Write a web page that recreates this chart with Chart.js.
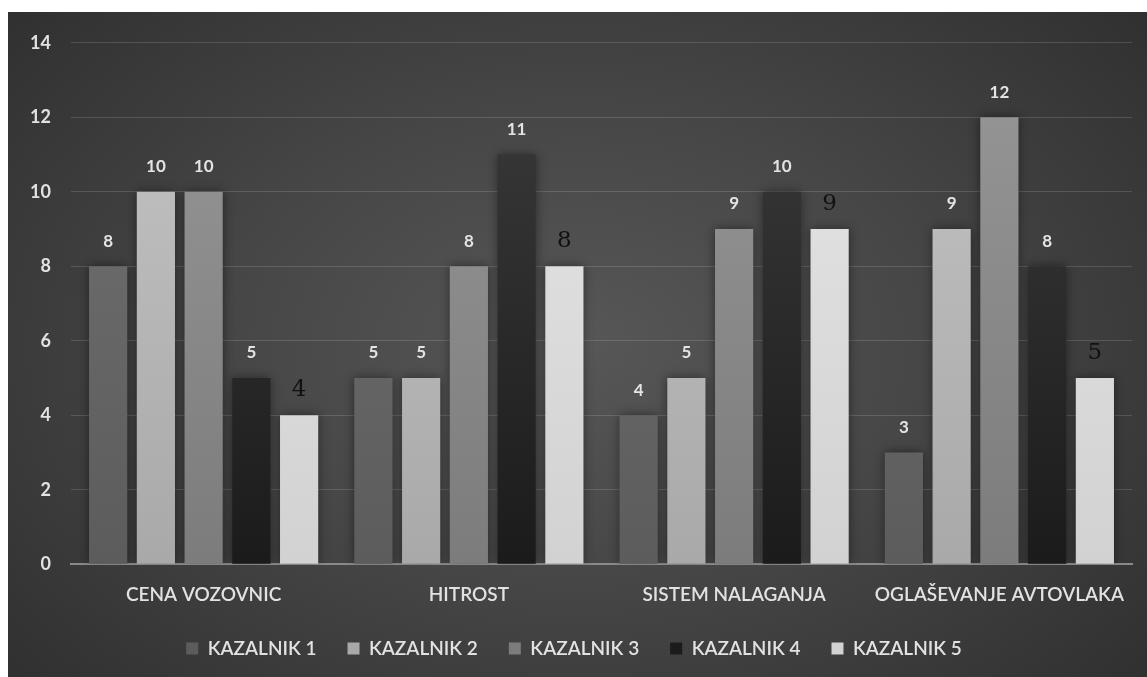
<!DOCTYPE html>
<html>
<head>
<meta charset="utf-8">
<title>Kazalniki</title>
<script src="https://cdn.jsdelivr.net/npm/chart.js@4.4.1/dist/chart.umd.min.js"></script>
<style>
    html, body { margin: 0; padding: 0; background: #fff; }
    #wrap {
        position: absolute;
        left: 8px; top: 12px;
        width: 1139px; height: 665px;
        background: radial-gradient(ellipse 70% 80% at 50% 50%, #575757 0%, #464646 45%, #2e2e2e 100%);
    }
    #chart { display: block; }
</style>
</head>
<body>
<div id="wrap"><canvas id="chart" width="1139" height="665"></canvas></div>
<script>
// ---- Data ----
const categories = ['CENA VOZOVNIC', 'HITROST', 'SISTEM NALAGANJA', 'OGLAŠEVANJE AVTOVLAKA'];
const seriesNames = ['KAZALNIK 1', 'KAZALNIK 2', 'KAZALNIK 3', 'KAZALNIK 4', 'KAZALNIK 5'];
const kazalnik1 = [8, 5, 4, 3];
const kazalnik2 = [10, 5, 5, 9];
const kazalnik3 = [10, 8, 9, 12];
const kazalnik4 = [5, 11, 10, 8];
const kazalnik5 = [4, 8, 9, 5];
const yTicks = [0, 2, 4, 6, 8, 10, 12, 14];

// ---- Bar fills (top colour, bottom colour) ----
const fills = [
    ['#727272', '#5c5c5c'],
    ['#c4c4c4', '#a9a9a9'],
    ['#979797', '#7c7c7c'],
    ['#3c3c3c', '#1b1b1b'],
    ['#e6e6e6', '#d2d2d2']
];

function barGradient(idx) {
    return (ctx) => {
        const area = ctx.chart.chartArea;
        if (!area) return fills[idx][1];
        const g = ctx.chart.ctx.createLinearGradient(0, area.top, 0, area.bottom);
        g.addColorStop(0, fills[idx][0]);
        g.addColorStop(1, fills[idx][1]);
        return g;
    };
}

const allSeries = [kazalnik1, kazalnik2, kazalnik3, kazalnik4, kazalnik5];
const datasets = allSeries.map((vals, i) => ({
    label: seriesNames[i],
    data: vals,
    backgroundColor: barGradient(i),
    borderWidth: 0,
    categoryPercentage: 0.9,
    barPercentage: 0.8
}));

// ---- Plugin: spaced lettering for all chart text ----
const spacedText = {
    id: 'spacedText',
    beforeInit(chart) {
        chart.ctx.letterSpacing = '1.5px';
    }
};

// ---- Plugin: soft shadow behind bars ----
const barShadow = {
    id: 'barShadow',
    beforeDatasetsDraw(chart) {
        const c = chart.ctx;
        c.save();
        c.shadowColor = 'rgba(0,0,0,0.45)';
        c.shadowBlur = 10;
    },
    afterDatasetsDraw(chart) {
        chart.ctx.restore();
    }
};

// ---- Plugin: value labels above bars ----
const valueLabels = {
    id: 'valueLabels',
    afterDatasetsDraw(chart) {
        const c = chart.ctx;
        c.save();
        c.textAlign = 'center';
        c.textBaseline = 'middle';
        chart.data.datasets.forEach((ds, di) => {
            const meta = chart.getDatasetMeta(di);
            meta.data.forEach((bar, i) => {
                if (di === 4) {
                    c.fillStyle = '#111';
                    c.font = '23px "DejaVu Serif", serif';
                } else {
                    c.fillStyle = '#e4e4e4';
                    c.font = 'bold 17px Lato, sans-serif';
                }
                c.fillText(String(ds.data[i]), bar.x, bar.y - 25);
            });
        });
        c.restore();
    }
};

new Chart(document.getElementById('chart'), {
    type: 'bar',
    data: { labels: categories, datasets: datasets },
    options: {
        responsive: false,
        animation: false,
        layout: { padding: { left: 8, right: 15, top: 22, bottom: 9 } },
        plugins: {
            legend: {
                position: 'bottom',
                labels: {
                    color: '#e2e2e2',
                    font: { family: 'Lato, sans-serif', size: 19, weight: '600' },
                    boxWidth: 12,
                    boxHeight: 12,
                    padding: 31
                }
            },
            tooltip: { enabled: false }
        },
        scales: {
            x: {
                grid: { display: false },
                border: { color: '#8a8a8a', width: 2 },
                afterFit: (s) => { s.height -= 9; },
                ticks: {
                    color: '#e2e2e2',
                    font: { family: 'Lato, sans-serif', size: 19, weight: '600' },
                    padding: 11,
                    maxRotation: 0
                }
            },
            y: {
                min: 0,
                max: 14,
                afterBuildTicks: (s) => { s.ticks = yTicks.map(v => ({ value: v })); },
                afterFit: (s) => { s.width = 55; },
                grid: { color: 'rgba(255,255,255,0.14)', drawTicks: false },
                border: { display: false },
                ticks: {
                    color: '#e2e2e2',
                    font: { family: 'Lato, sans-serif', size: 18, weight: 'bold' },
                    padding: 20
                }
            }
        }
    },
    plugins: [spacedText, barShadow, valueLabels]
});
</script>
</body>
</html>
